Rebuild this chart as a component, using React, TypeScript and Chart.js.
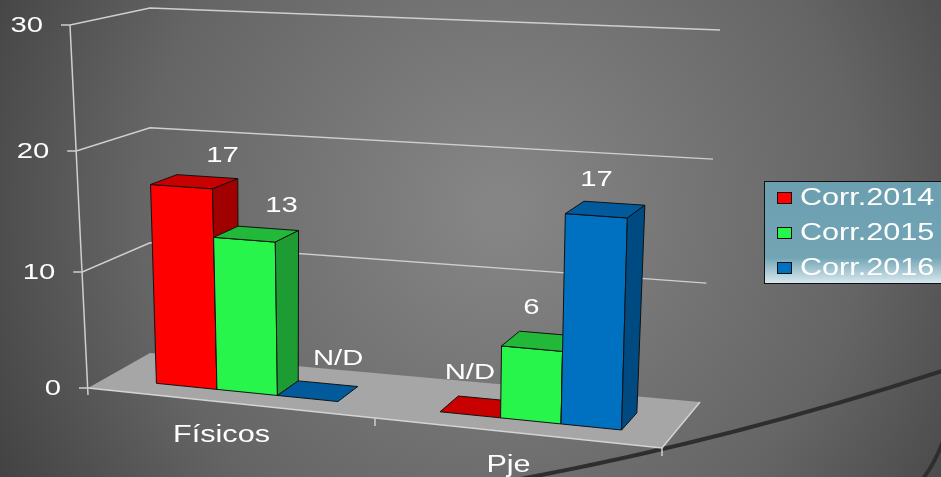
import React, { useEffect, useRef } from "react";
import { Chart, registerables } from "chart.js";

Chart.register(...registerables);

const categories = ["Físicos", "Pje"];
const seriesNames = ["Corr.2014", "Corr.2015", "Corr.2016"];
const corr2014: (number | null)[] = [17, null];
const corr2015: (number | null)[] = [13, 6];
const corr2016: (number | null)[] = [null, 17];
const yTicks = [0, 10, 20, 30];
const missingLabel = "N/D";

const seriesValues = [corr2014, corr2015, corr2016];
const faceColors = [
  { front: "#ff0000", top: "#c80000", side: "#a00000" },
  { front: "#28f54c", top: "#22b83a", side: "#1e9c34" },
  { front: "#0070c0", top: "#005a9c", side: "#004a82" },
];

const FONT = '"Liberation Sans", Arial, sans-serif';
const STRETCH = 1.33;

// perspective frame (front plane w=0, back plane w=1)
const F = { bl: [88, 388], br: [662, 448], tl: [70, 25], tr: [672, 55] };
const B = { bl: [150, 353], br: [700, 402], tl: [150, 8], tr: [720, 30] };
const W0 = 0.28;
const W1 = 0.66;

function lerp(a: number[], b: number[], t: number) {
  return [a[0] + (b[0] - a[0]) * t, a[1] + (b[1] - a[1]) * t];
}
function plane(P: any, u: number, t: number) {
  return lerp(lerp(P.bl, P.br, u), lerp(P.tl, P.tr, u), t);
}

function stretchedText(ctx: CanvasRenderingContext2D, text: string, x: number, y: number, align: CanvasTextAlign) {
  ctx.save();
  ctx.translate(x, y);
  ctx.scale(STRETCH, 1);
  ctx.textAlign = align;
  ctx.fillText(text, 0, 0);
  ctx.restore();
}

const plugin3d = {
  id: "bars3d",
  beforeDraw(chart: any) {
    const ctx: CanvasRenderingContext2D = chart.ctx;
    const w = chart.width, h = chart.height;
    ctx.save();
    const g = ctx.createRadialGradient(500, 210, 20, 500, 210, 640);
    g.addColorStop(0, "#858585");
    g.addColorStop(0.55, "#656565");
    g.addColorStop(1, "#363636");
    ctx.fillStyle = g;
    ctx.fillRect(0, 0, w, h);
    // decorative arcs
    ctx.strokeStyle = "#2e2e2e";
    ctx.lineWidth = 4;
    ctx.beginPath();
    ctx.moveTo(515, 480);
    ctx.quadraticCurveTo(730, 440, 945, 370);
    ctx.stroke();
    ctx.beginPath();
    ctx.moveTo(922, 480);
    ctx.quadraticCurveTo(936, 462, 945, 436);
    ctx.stroke();
    ctx.restore();
  },
  beforeDatasetsDraw(chart: any) {
    const ctx: CanvasRenderingContext2D = chart.ctx;
    const yScale = chart.scales.y;
    const max = yScale.max;
    const P = (u: number, v: number, wd: number) => {
      let t = v / max;
      t = t - 0.062 * t * (1 - t);
      const a = plane(F, u, t);
      const b = plane(B, u, t);
      return lerp(a, b, wd);
    };
    ctx.save();
    // floor
    const f = [P(0, 0, 0), P(1, 0, 0), P(1, 0, 1), P(0, 0, 1)];
    ctx.fillStyle = "#a6a6a6";
    ctx.beginPath();
    f.forEach((p, i) => (i ? ctx.lineTo(p[0], p[1]) : ctx.moveTo(p[0], p[1])));
    ctx.closePath();
    ctx.fill();
    ctx.strokeStyle = "#d4d4d4";
    ctx.lineWidth = 1.5;
    ctx.beginPath();
    ctx.moveTo(f[0][0], f[0][1]);
    ctx.lineTo(f[1][0], f[1][1]);
    ctx.lineTo(f[2][0], f[2][1]);
    ctx.stroke();

    // gridlines and ticks
    ctx.strokeStyle = "#cfcfcf";
    ctx.lineWidth = 1.5;
    yTicks.forEach((v) => {
      const a = P(0, v, 0), b = P(0, v, 1), c = P(1, v, 1);
      ctx.beginPath();
      ctx.moveTo(a[0] - 9, a[1]);
      ctx.lineTo(a[0], a[1]);
      if (v > 0) {
        ctx.lineTo(b[0], b[1]);
        ctx.lineTo(c[0], c[1]);
      }
      ctx.stroke();
    });
    const a0 = P(0, 0, 0), a1 = P(0, max, 0);
    ctx.beginPath();
    ctx.moveTo(a0[0], a0[1] + 7);
    ctx.lineTo(a1[0], a1[1]);
    ctx.stroke();
    [0.5, 1].forEach((u) => {
      const p = P(u, 0, 0);
      ctx.beginPath();
      ctx.moveTo(p[0], p[1]);
      ctx.lineTo(p[0], p[1] + 8);
      ctx.stroke();
    });

    // tick labels
    ctx.fillStyle = "#ffffff";
    ctx.font = `22px ${FONT}`;
    ctx.textBaseline = "middle";
    yTicks.forEach((v) => {
      const a = P(0, v, 0);
      stretchedText(ctx, String(v), a[0] - 27, a[1] + 1, "right");
    });
    // category labels
    const xs = chart.scales.x;
    ctx.font = `23px ${FONT}`;
    categories.forEach((c, i) => {
      const u = (xs.getPixelForValue(i) - chart.chartArea.left) / chart.chartArea.width;
      const p = P(u, 0, 0);
      stretchedText(ctx, c, p[0] - 10, p[1] + 33, "center");
    });

    // bars
    const area = chart.chartArea;
    const labels: any[] = [];
    for (let i = 0; i < categories.length; i++) {
      chart.data.datasets.forEach((ds: any, di: number) => {
        const el = chart.getDatasetMeta(di).data[i];
        const u0 = (el.x - el.width / 2 - area.left) / area.width;
        const u1 = (el.x + el.width / 2 - area.left) / area.width;
        const v = yScale.getValueForPixel(el.y);
        const col = faceColors[di];
        const poly = (pts: number[][], fill: string) => {
          ctx.beginPath();
          pts.forEach((p, k) => (k ? ctx.lineTo(p[0], p[1]) : ctx.moveTo(p[0], p[1])));
          ctx.closePath();
          ctx.fillStyle = fill;
          ctx.fill();
          ctx.strokeStyle = "#111111";
          ctx.lineWidth = 1;
          ctx.stroke();
        };
        const raw = seriesValues[di][i];
        if (raw === null || v <= 0.01) {
          poly([P(u0, 0, W0), P(u1, 0, W0), P(u1, 0, W1), P(u0, 0, W1)], col.top);
        } else {
          poly([P(u0, 0, W0), P(u1, 0, W0), P(u1, v, W0), P(u0, v, W0)], col.front);
          poly([P(u0, v, W0), P(u1, v, W0), P(u1, v, W1), P(u0, v, W1)], col.top);
          poly([P(u1, 0, W0), P(u1, 0, W1), P(u1, v, W1), P(u1, v, W0)], col.side);
        }
        const lp = P((u0 + u1) / 2, v, 1);
        const dx = i === 0 ? -8 : -34;
        labels.push({ text: raw === null ? missingLabel : String(raw), x: lp[0] + dx, y: lp[1] - 12 });
      });
    }
    ctx.fillStyle = "#ffffff";
    ctx.font = `22px ${FONT}`;
    ctx.textBaseline = "middle";
    labels.forEach((l) => stretchedText(ctx, l.text, l.x, l.y, "center"));

    // legend
    const lx = 764, ly = 181, lw = 180, lh = 102;
    const lg = ctx.createLinearGradient(0, ly, 0, ly + lh);
    lg.addColorStop(0, "#6b9fb0");
    lg.addColorStop(0.75, "#72a4b4");
    lg.addColorStop(1, "#d8e8ee");
    ctx.fillStyle = lg;
    ctx.fillRect(lx, ly, lw, lh);
    ctx.strokeStyle = "#111111";
    ctx.lineWidth = 1;
    ctx.strokeRect(lx + 0.5, ly + 0.5, lw, lh);
    ctx.font = `23px ${FONT}`;
    chart.data.datasets.forEach((ds: any, di: number) => {
      const cy = 198 + di * 35;
      ctx.fillStyle = faceColors[di].front;
      ctx.fillRect(777, cy - 6, 14, 11);
      ctx.strokeStyle = "#111111";
      ctx.strokeRect(777.5, cy - 5.5, 14, 11);
      ctx.fillStyle = "#ffffff";
      stretchedText(ctx, ds.label, 800, cy + 1, "left");
    });
    ctx.restore();
    return false;
  },
};

export default function App() {
  const ref = useRef<HTMLCanvasElement>(null);
  useEffect(() => {
    document.body.style.margin = "0";
    const chart = new Chart(ref.current!, {
      type: "bar",
      data: {
        labels: categories,
        datasets: seriesNames.map((name, i) => ({
          label: name,
          data: seriesValues[i].map((v) => (v === null ? 0 : v)),
          backgroundColor: faceColors[i].front,
          categoryPercentage: 0.64,
          barPercentage: 1,
        })),
      },
      options: {
        responsive: false,
        animation: false,
        layout: { padding: 0 },
        plugins: { legend: { display: false }, tooltip: { enabled: false } },
        scales: {
          x: { display: false },
          y: { display: false, min: 0, max: 30 },
        },
      },
      plugins: [plugin3d],
    });
    return () => chart.destroy();
  }, []);
  return (
    <div style={{ position: "fixed", left: 0, top: 0, width: 941, height: 477 }}>
      <canvas ref={ref} width={941} height={477} />
    </div>
  );
}
